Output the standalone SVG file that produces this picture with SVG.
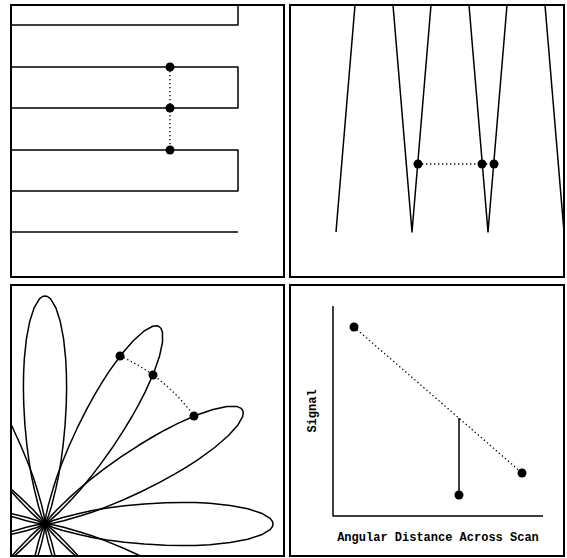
<svg xmlns="http://www.w3.org/2000/svg" width="567" height="558" viewBox="0 0 567 558">
<style>
.frame{fill:none;stroke:#000;stroke-width:2}
.ln{fill:none;stroke:#000;stroke-width:1.5;stroke-linejoin:round}
.dot{fill:#000}
.dt{fill:none;stroke:#000;stroke-width:1.3;stroke-dasharray:1.3 2.7}
.tx{font-family:"Liberation Mono","DejaVu Sans Mono",monospace;font-size:12px;font-weight:bold;fill:#000}
</style>
<defs>
<polyline id="lobe" class="ln" points="0,0 8.2,-3.5 17.8,-6.5 35.1,-10.8 47.3,-13.4 62.2,-15.9 79.6,-18.2 99.3,-20.1 120.6,-21.3 136.6,-21.6 150.5,-21.4 164.8,-20.7 185.2,-18.6 202.8,-15.2 216.4,-10.8 225.1,-5.6 227.5,-2.5 228,0 227.5,2.5 225.1,5.6 216.4,10.8 202.8,15.2 185.2,18.6 164.8,20.7 150.5,21.4 136.6,21.6 120.6,21.3 99.3,20.1 79.6,18.2 62.2,15.9 47.3,13.4 35.1,10.8 17.8,6.5 8.2,3.5 0,0"/>
<clipPath id="c3"><rect x="11" y="285" width="273" height="271"/></clipPath>
</defs>
<g id="panel1">
<rect class="frame" x="11" y="5" width="273" height="272"/>
<polyline class="ln" points="11,25 238,25 238,5"/>
<polyline class="ln" points="11,67 238,67 238,108 11,108"/>
<polyline class="ln" points="11,150 238,150 238,191 11,191"/>
<line class="ln" x1="11" y1="232" x2="238" y2="232"/>
<line class="dt" x1="170" y1="67" x2="170" y2="150"/>
<circle class="dot" cx="170" cy="67" r="4.5"/>
<circle class="dot" cx="170" cy="108" r="4.5"/>
<circle class="dot" cx="170" cy="150" r="4.5"/>
</g>
<g id="panel2">
<rect class="frame" x="290" y="5" width="274" height="272"/>
<line class="ln" x1="355" y1="5" x2="336" y2="232"/>
<polyline class="ln" points="393,5 412,232 431,5"/>
<polyline class="ln" points="469,5 488,232 507,5"/>
<line class="ln" x1="545" y1="5" x2="564" y2="232"/>
<line class="dt" x1="418" y1="164" x2="494" y2="164"/>
<circle class="dot" cx="418" cy="164" r="4.5"/>
<circle class="dot" cx="482" cy="164" r="4.5"/>
<circle class="dot" cx="494" cy="164" r="4.5"/>
</g>
<g id="panel3">
<g clip-path="url(#c3)">
<g transform="translate(45,524)">
<use href="#lobe"/>
<use href="#lobe" transform="rotate(-30)"/>
<use href="#lobe" transform="rotate(-60)"/>
<use href="#lobe" transform="rotate(-90)"/>
<use href="#lobe" transform="rotate(-120)"/>
<use href="#lobe" transform="rotate(-150)"/>
<use href="#lobe" transform="rotate(-180)"/>
<use href="#lobe" transform="rotate(-210)"/>
<use href="#lobe" transform="rotate(-240)"/>
<use href="#lobe" transform="rotate(-270)"/>
<use href="#lobe" transform="rotate(-300)"/>
<use href="#lobe" transform="rotate(-330)"/>
</g>
</g>
<path class="dt" d="M120,356 A184,184 0 0 1 194,416"/>
<circle class="dot" cx="120" cy="356" r="4.5"/>
<circle class="dot" cx="153" cy="375" r="4.5"/>
<circle class="dot" cx="194" cy="416" r="4.5"/>
<rect class="frame" x="11" y="285" width="273" height="271"/>
</g>
<g id="panel4">
<rect class="frame" x="290" y="285" width="274" height="271"/>
<polyline class="ln" points="333,306 333,516 543,516"/>
<line class="dt" x1="354" y1="327" x2="522" y2="473"/>
<line class="ln" x1="459" y1="418" x2="459" y2="495"/>
<circle class="dot" cx="354" cy="327" r="4.5"/>
<circle class="dot" cx="522" cy="473" r="4.5"/>
<circle class="dot" cx="459" cy="495" r="4.5"/>
<text class="tx" x="438" y="541" text-anchor="middle">Angular Distance Across Scan</text>
<text class="tx" transform="translate(316,411) rotate(-90)" text-anchor="middle">Signal</text>
</g>
</svg>
